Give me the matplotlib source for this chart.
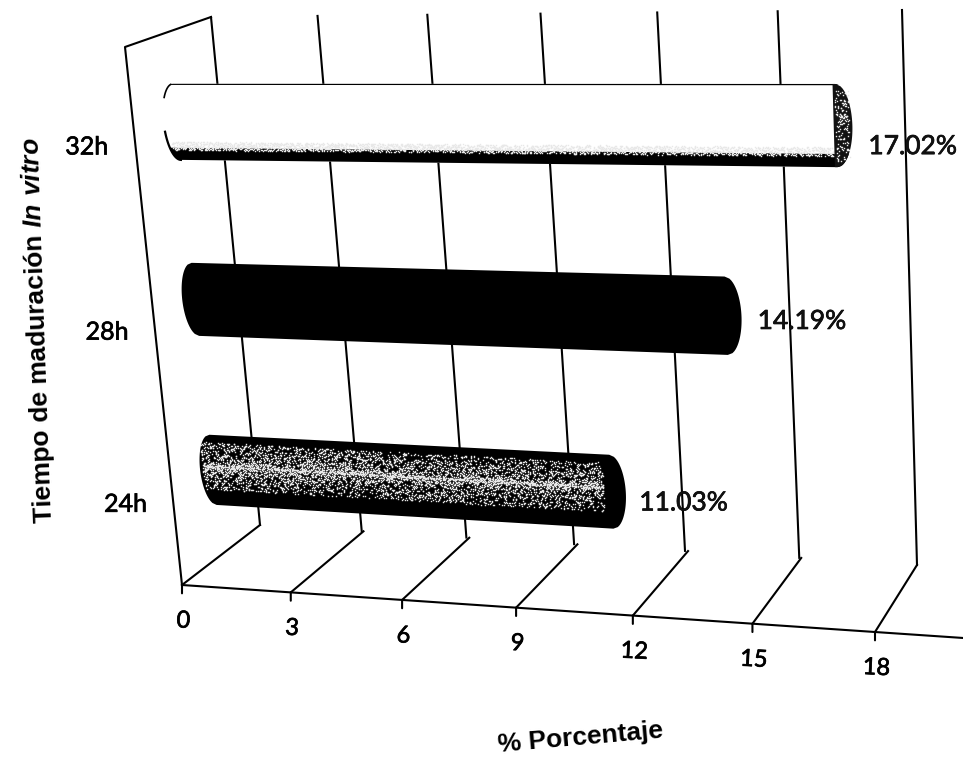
import numpy as np
import matplotlib
matplotlib.use("Agg")
import matplotlib.pyplot as plt
import matplotlib.patheffects as pe
from matplotlib.patches import Polygon
from matplotlib.transforms import Transform

plt.rcParams['mathtext.fontset'] = 'custom'
plt.rcParams['mathtext.rm'] = 'Liberation Sans:bold'
plt.rcParams['mathtext.bf'] = 'Liberation Sans:bold'
plt.rcParams['mathtext.bfit'] = 'Liberation Sans:italic:bold'

# data
categories = ["24h", "28h", "32h"]
values = [11.03, 14.19, 17.02]
value_labels = ["11.03%", "14.19%", "17.02%"]
ticks = [0, 3, 6, 9, 12, 15, 18]


class Persp(Transform):
    # projective map of the chart planes onto the scanned page
    input_dims = 2
    output_dims = 2
    is_separable = False
    has_inverse = False

    def __init__(self, src, dst):
        super().__init__()
        a = []
        b = []
        for (u, v), (x, y) in zip(src, dst):
            a.append([u, v, 1, 0, 0, 0, -u*x, -v*x])
            a.append([0, 0, 0, u, v, 1, -u*y, -v*y])
            b += [x, y]
        self.h = np.append(np.linalg.solve(np.array(a, float), np.array(b, float)), 1).reshape(3, 3)

    def transform_non_affine(self, pts):
        pts = np.asarray(pts, float)
        p = np.c_[pts, np.ones(len(pts))] @ self.h.T
        return p[:, :2] / p[:, 2:]


fig = plt.figure(figsize=(9.63, 7.58), dpi=100)
ax = fig.add_axes([0, 0, 1, 1])
ax.set_xlim(0, 963)
ax.set_ylim(758, 0)
ax.axis("off")
ax.set_autoscale_on(False)

corners = [(0, 0), (18, 0), (0, 1), (18, 1)]
floor = Persp(corners, [(182, 585), (875, 632), (260, 525), (917, 565)]) + ax.transData
wall = Persp(corners, [(260, 525), (917, 565), (211, 17), (902, 10)]) + ax.transData
# bar plane: value across, category level (1..3) up
plane = Persp([(0, 1), (18, 1), (0, 3), (18, 3)],
              [(213, 470), (887, 507), (177, 122), (878, 126)]) + ax.transData

heavy = [pe.withStroke(linewidth=0.5, foreground="k")]
LW = 1.5
for t in ticks:
    ax.plot([t, t], [0, 1], color="k", lw=LW, transform=floor, zorder=1)
    ax.plot([t, t], [0, 1], color="k", lw=LW, transform=wall, zorder=1)
    ax.annotate("", xy=(t, 0), xycoords=floor, xytext=(0, -6), textcoords="offset points",
                arrowprops=dict(arrowstyle="-", color="k", lw=LW, shrinkA=0, shrinkB=0))
    ax.annotate(str(t), xy=(t, 0), xycoords=floor, xytext=(1, -26), textcoords="offset points",
                ha="center", va="center", fontsize=17, family="Lato", rotation=-3, path_effects=heavy)
ax.plot([0, 20.2], [0, 0], color="k", lw=LW, transform=floor, zorder=1)
ax.plot([182, 125, 211], [585, 47, 17], color="k", lw=LW, zorder=1)

H = 0.21
A = 0.38


def draw(level, val, r0=-1, r1=1, **kw):
    t = np.arcsin(np.linspace(r0, r1, 40))
    s = level + H*np.sin(t)
    xy = np.r_[np.c_[val + A*np.cos(t), s], np.c_[-A*np.cos(t), s][::-1]]
    ax.add_patch(Polygon(xy, closed=True, transform=plane, lw=0, **kw))


def speckle(level, v0, v1, r0, r1, n, power=1.0, z=5):
    # scanner grain: low discrepancy sequence, denser towards the band centre
    i = np.arange(1, n + 1)
    u = (i*0.7548776662) % 1
    w = (i*0.5698402910 + 0.37*np.sin(i*i*0.013)) % 1
    w = 2*w - 1
    w = np.sign(w)*np.abs(w)**power
    r = (r0 + r1)/2 + w*(r1 - r0)/2
    ax.plot(v0 + u*(v1 - v0), level + H*r, ls="none", marker="s", ms=1.0, mew=0, color="#e8e8e8",
            transform=plane, zorder=z)


def bar_24(level, val):
    draw(level, val, fc="k", zorder=3)
    speckle(level, -0.3, val - 0.2, -0.55, 0.78, 5600, 1.6)


def bar_28(level, val):
    draw(level, val, fc="k", zorder=3)


def bar_32(level, val):
    draw(level, val, fc="w", zorder=3)
    draw(level, val, -1, -0.68, fc="k", zorder=4)
    speckle(level, -0.2, val, -0.74, -0.52, 2600, z=5)
    draw(level, val, 0.97, 1, fc="k", zorder=4)
    # left rim, broken where the scan lost it
    a = np.radians(np.linspace(100, 140, 12))
    ax.plot(A*np.cos(a), level + H*np.sin(a), color="k", lw=1.2, transform=plane, zorder=4)
    a = np.radians(np.linspace(195, 270, 20))
    ax.plot(A*np.cos(a), level + H*np.sin(a), color="k", lw=1.6, transform=plane, zorder=4)
    # end cap
    t = np.arcsin(np.linspace(-1, 1, 40))
    xy = np.r_[np.c_[val + A*np.cos(t), level + H*np.sin(t)],
               np.c_[val - 0.06 + 0*t, level + H*np.sin(t)][::-1]]
    ax.add_patch(Polygon(xy, closed=True, transform=plane, lw=0, fc="#111111", zorder=5))
    speckle(level, val - 0.02, val + 0.3, -0.85, 0.85, 150, z=6)


painters = [bar_24, bar_28, bar_32]
label_off = [(52, -8), (54.5, -4), (55, -15)]
cat_off = [(-63, -24.7), (-63.6, -23.5), (-65, -18)]
for i, cat in enumerate(categories):
    level = i + 1
    painters[i](level, values[i])
    ax.annotate(value_labels[i], xy=(values[i], level), xycoords=plane, xytext=label_off[i],
                textcoords="offset points", ha="center", va="center", fontsize=19,
                family="Lato", color="#111111", zorder=7, path_effects=heavy)
    ax.annotate(cat, xy=(0, level), xycoords=plane, xytext=cat_off[i], textcoords="offset points",
                ha="center", va="center", fontsize=18, family="Lato", zorder=7, path_effects=heavy)

ax.text(38, 330, "Tiempo de maduración $\\mathbfit{In\\ vitro}$", rotation=92, ha="center", va="center",
        fontsize=19, family="Liberation Sans", fontweight="bold", rotation_mode="anchor")
ax.text(581, 738, "% Porcentaje", rotation=5, ha="center", va="center", fontsize=19,
        family="Liberation Sans", fontweight="bold", rotation_mode="anchor")

plt.savefig("out.png", dpi=100)
